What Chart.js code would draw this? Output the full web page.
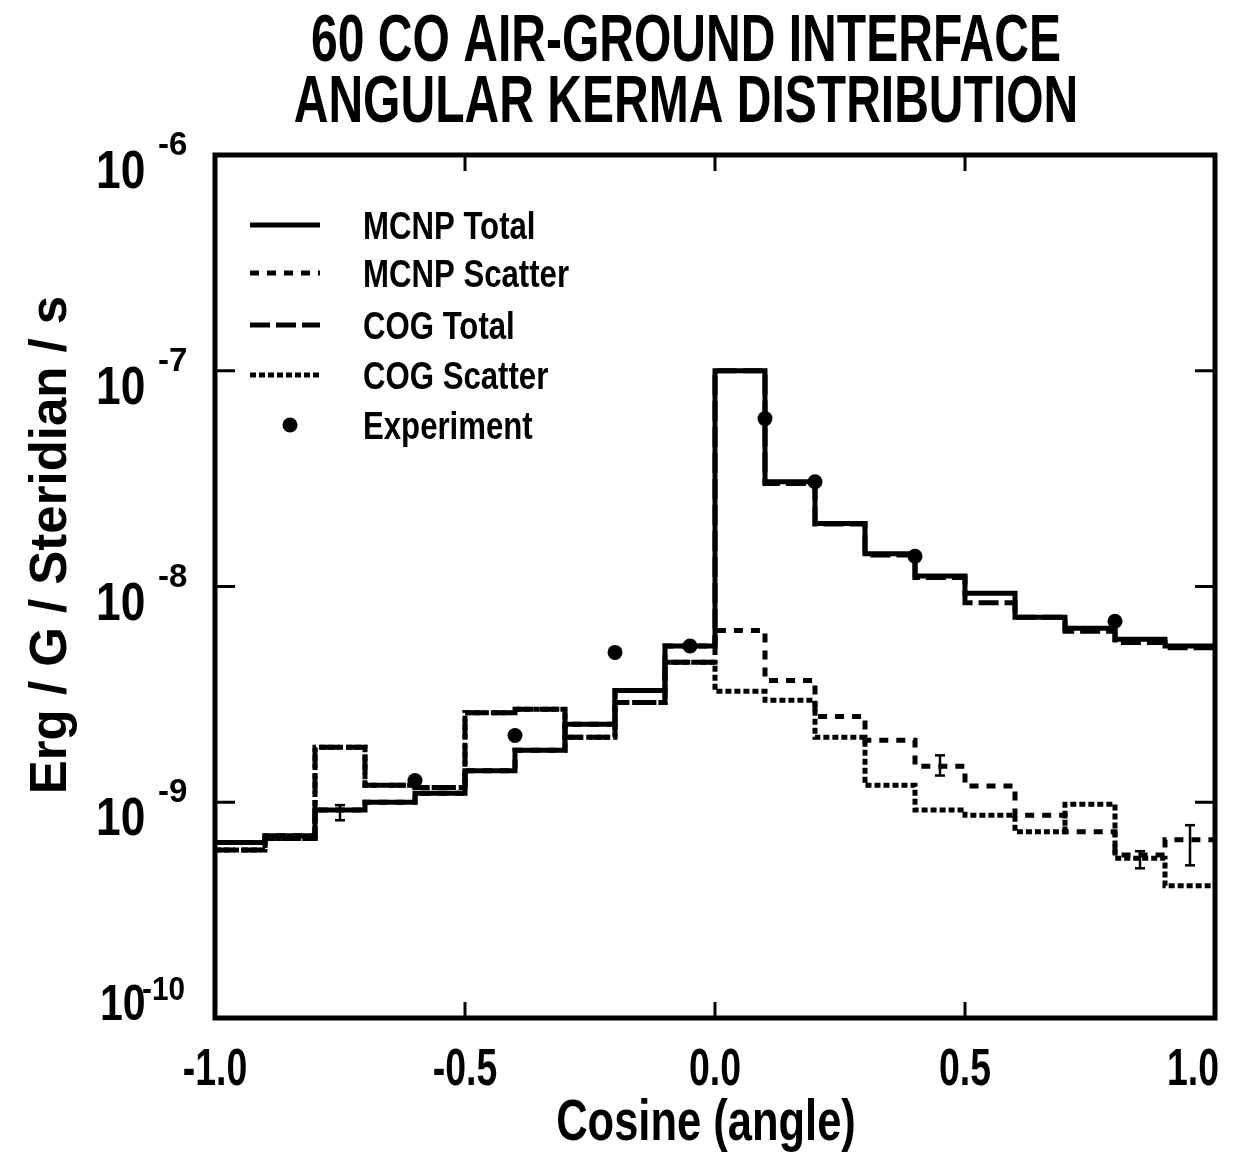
<!DOCTYPE html>
<html>
<head>
<meta charset="utf-8">
<title>60 CO Air-Ground Interface</title>
<script src="https://cdn.jsdelivr.net/npm/chart.js@4.4.1/dist/chart.umd.min.js"></script>
<style>
  html, body { margin:0; padding:0; background:#fff; }
  #wrap { width:1245px; height:1154px; }
</style>
</head>
<body>
<div id="wrap"><canvas id="grafico" width="1245" height="1154"></canvas></div>
<script>
// DATA (bin edges in cosine, values in erg/g/steradian/s)
const binEdges = [-1.0,-0.9,-0.8,-0.7,-0.6,-0.5,-0.4,-0.3,-0.2,-0.1,0.0,0.1,0.2,0.3,0.4,0.5,0.6,0.7,0.8,0.9,1.0];

const mcnpTotal   = [6.5e-10,7.0e-10,9.2e-10,1.0e-9,1.1e-9,1.4e-9,1.74e-9,2.3e-9,3.3e-9,5.3e-9,
                     1.0e-7,3.06e-8,1.96e-8,1.42e-8,1.12e-8,9.3e-9,7.2e-9,6.4e-9,5.7e-9,5.3e-9];
const mcnpScatter = [6.5e-10,7.0e-10,9.2e-10,1.0e-9,1.1e-9,1.4e-9,1.74e-9,2.3e-9,3.3e-9,5.3e-9,
                     6.25e-9,3.67e-9,2.5e-9,1.94e-9,1.47e-9,1.19e-9,8.7e-10,7.3e-10,5.7e-10,6.7e-10];
const cogTotal    = [6.0e-10,6.8e-10,1.8e-9,1.2e-9,1.17e-9,2.6e-9,2.7e-9,2.0e-9,2.9e-9,4.45e-9,
                     1.0e-7,3.0e-8,1.95e-8,1.4e-8,1.1e-8,8.4e-9,7.2e-9,6.2e-9,5.5e-9,5.2e-9];
const cogScatter  = [6.0e-10,6.8e-10,1.8e-9,1.2e-9,1.17e-9,2.6e-9,2.7e-9,2.0e-9,2.9e-9,4.45e-9,
                     3.27e-9,2.97e-9,2.0e-9,1.2e-9,9.2e-10,8.7e-10,7.3e-10,9.8e-10,5.5e-10,4.1e-10];

const expCos   = [-0.6,-0.4,-0.2,-0.05,0.1,0.2,0.4,0.8];
const expKerma = [1.26e-9,2.04e-9,4.95e-9,5.3e-9,6.0e-8,3.06e-8,1.38e-8,6.9e-9];

// error bars on MCNP scatter
const errCos  = [-0.75,0.45,0.85,0.95];
const errLow  = [8.25e-10,1.33e-9,4.94e-10,5.1e-10];
const errHigh = [9.7e-10,1.65e-9,5.93e-10,7.83e-10];

const xTicks = [-1.0,-0.5,0.0,0.5,1.0];
const yExponents = [-6,-7,-8,-9,-10];

const titleLines = ["60 CO AIR-GROUND INTERFACE","ANGULAR KERMA DISTRIBUTION"];
const xTitle = "Cosine (angle)";
const yTitle = "Erg / G / Steridian / s";

// HISTOGRAM STEPS
function steps(vals){
  const pts = vals.map((v,i) => ({ x: binEdges[i], y: v }));
  pts.push({ x: binEdges[binEdges.length-1], y: vals[vals.length-1] });
  return pts;
}

function linha(label, vals, dash){
  return { label, data: steps(vals), borderColor:"#000", borderWidth:5, borderDash:dash,
           stepped:true, pointRadius:0, fill:false, borderCapStyle:"butt", borderJoinStyle:"miter" };
}

// TEXT HELPER (bold, horizontally scaled to get the condensed look)
function texto(ctx, str, x, y, size, sx, align, rot){
  ctx.save();
  ctx.translate(x, y);
  if(rot) ctx.rotate(rot);
  ctx.scale(sx, 1);
  ctx.font = `bold ${size}px "Liberation Sans", Arial, sans-serif`;
  ctx.textAlign = align;
  ctx.textBaseline = "alphabetic";
  ctx.fillStyle = "#000";
  ctx.fillText(str, 0, 0);
  ctx.restore();
}

function seg(ctx, x1, y1, x2, y2){
  ctx.beginPath(); ctx.moveTo(x1,y1); ctx.lineTo(x2,y2); ctx.stroke();
}

// FRAME, TICKS, LABELS, LEGEND
const decoracao = {
  id: "decoracao",
  afterDraw(chart){
    const { ctx, chartArea: a, scales: { x, y } } = chart;
    ctx.save();
    ctx.strokeStyle = "#000";
    ctx.setLineDash([]);

    // error bars
    ctx.lineWidth = 2.5;
    errCos.forEach((c,i) => {
      const px = x.getPixelForValue(c);
      const lo = y.getPixelForValue(errLow[i]), hi = y.getPixelForValue(errHigh[i]);
      seg(ctx, px, lo, px, hi);
      seg(ctx, px-5, lo, px+5, lo);
      seg(ctx, px-5, hi, px+5, hi);
    });

    // frame
    ctx.lineWidth = 5;
    ctx.strokeRect(a.left, a.top, a.right-a.left, a.bottom-a.top);

    // inward ticks
    ctx.lineWidth = 3;
    yExponents.forEach(e => {
      const py = y.getPixelForValue(Math.pow(10,e));
      seg(ctx, a.left, py, a.left+20, py);
      seg(ctx, a.right-20, py, a.right, py);
    });
    xTicks.slice(1,-1).forEach(v => {
      const px = x.getPixelForValue(v);
      seg(ctx, px, a.top, px, a.top+16);
      seg(ctx, px, a.bottom-16, px, a.bottom);
    });

    // y tick labels 10^n
    yExponents.forEach((e,i) => {
      const py = y.getPixelForValue(Math.pow(10,e));
      if(i === yExponents.length-1){
        texto(ctx, "10", 100, py+2, 50, 0.82, "left");
        texto(ctx, String(e), 142, py-18, 33, 0.9, "left");
      } else {
        texto(ctx, "10", 96, py+33, 54, 0.82, "left");
        texto(ctx, String(e), 158, py, 33, 1.0, "left");
      }
    });

    // x tick labels
    xTicks.forEach(v => {
      const px = x.getPixelForValue(v);
      texto(ctx, v.toFixed(1), px - (v === 1 ? 22 : 0), 1085, 52, 0.72, "center");
    });

    // axis titles
    texto(ctx, xTitle, 706, 1140, 58, 0.75, "center");
    texto(ctx, yTitle, 66, 545, 52, 0.98, "center", -Math.PI/2);

    // chart title
    texto(ctx, titleLines[0], 686, 61, 67, 0.717, "center");
    texto(ctx, titleLines[1], 686, 122, 67, 0.717, "center");

    // legend
    const rows = [225, 273, 325, 375, 425];
    chart.data.datasets.forEach((ds,i) => {
      const cy = rows[i];
      if(ds.pointRadius > 0){
        ctx.beginPath();
        ctx.arc(290, cy, ds.pointRadius, 0, Math.PI*2);
        ctx.fillStyle = "#000";
        ctx.fill();
      } else {
        ctx.lineWidth = ds.borderWidth;
        ctx.setLineDash(ds.borderDash || []);
        seg(ctx, 250, cy, 320, cy);
        ctx.setLineDash([]);
      }
      texto(ctx, ds.label, 363, cy+14, 38, 0.82, "left");
    });

    ctx.restore();
  }
};

// CHART
new Chart(document.getElementById("grafico"), {
  type: "line",
  data: {
    datasets: [
      linha("MCNP Total", mcnpTotal, []),
      linha("MCNP Scatter", mcnpScatter, [9,8]),
      linha("COG Total", cogTotal, [20,6]),
      linha("COG Scatter", cogScatter, [6,3]),
      { label:"Experiment", data: expCos.map((c,i) => ({ x:c, y:expKerma[i] })), showLine:false,
        pointRadius:7.5, pointBackgroundColor:"#000", pointBorderWidth:0, borderColor:"#000" }
    ]
  },
  options: {
    responsive: false,
    animation: false,
    events: [],
    layout: { padding: { left:215, right:30, top:155, bottom:136 } },
    scales: {
      x: { type:"linear", min:-1, max:1, display:false },
      y: { type:"logarithmic", min:1e-10, max:1e-6, display:false }
    },
    plugins: { legend:{ display:false }, tooltip:{ enabled:false }, title:{ display:false } }
  },
  plugins: [decoracao]
});
</script>
</body>
</html>
